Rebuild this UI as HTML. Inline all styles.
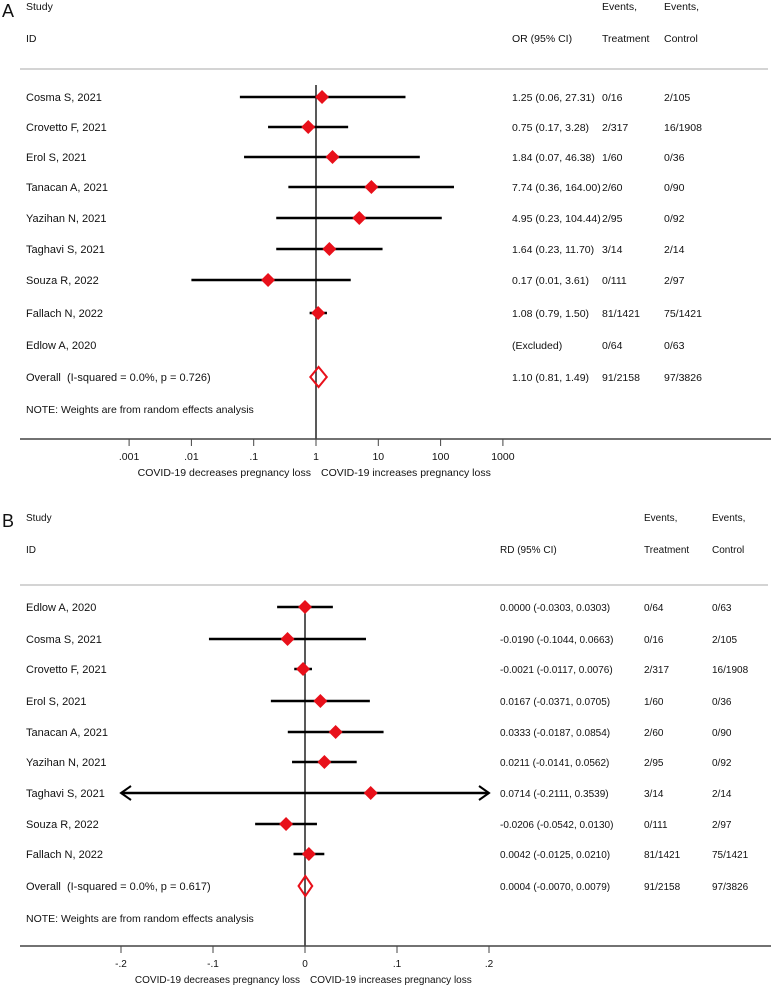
<!DOCTYPE html>
<html><head><meta charset="utf-8">
<style>
html,body{margin:0;padding:0;background:#fff;}
svg{display:block;font-family:"Liberation Sans",Arial,sans-serif;}
text{fill:#111;white-space:pre;}
</style></head>
<body>
<svg id="chart" width="771" height="988" viewBox="0 0 771 988" xmlns="http://www.w3.org/2000/svg"></svg>
<script>
// Panel A data (OR, log scale)
const studiesA = ["Cosma S, 2021","Crovetto F, 2021","Erol S, 2021","Tanacan A, 2021","Yazihan N, 2021","Taghavi S, 2021","Souza R, 2022","Fallach N, 2022","Edlow A, 2020"];
const orA = [1.25,0.75,1.84,7.74,4.95,1.64,0.17,1.08,null];
const loA = [0.06,0.17,0.07,0.36,0.23,0.23,0.01,0.79,null];
const hiA = [27.31,3.28,46.38,164.00,104.44,11.70,3.61,1.50,null];
const ciTextA = ["1.25 (0.06, 27.31)","0.75 (0.17, 3.28)","1.84 (0.07, 46.38)","7.74 (0.36, 164.00)","4.95 (0.23, 104.44)","1.64 (0.23, 11.70)","0.17 (0.01, 3.61)","1.08 (0.79, 1.50)","(Excluded)"];
const trtA = ["0/16","2/317","1/60","2/60","2/95","3/14","0/111","81/1421","0/64"];
const ctlA = ["2/105","16/1908","0/36","0/90","0/92","2/14","2/97","75/1421","0/63"];
const overallA = [1.10,0.81,1.49];
const ticksA = [0.001,0.01,0.1,1,10,100,1000];
const tickLabelsA = [".001",".01",".1","1","10","100","1000"];

// Panel B data (RD, linear)
const studiesB = ["Edlow A, 2020","Cosma S, 2021","Crovetto F, 2021","Erol S, 2021","Tanacan A, 2021","Yazihan N, 2021","Taghavi S, 2021","Souza R, 2022","Fallach N, 2022"];
const rdB = [0.0000,-0.0190,-0.0021,0.0167,0.0333,0.0211,0.0714,-0.0206,0.0042];
const loB = [-0.0303,-0.1044,-0.0117,-0.0371,-0.0187,-0.0141,-0.2111,-0.0542,-0.0125];
const hiB = [0.0303,0.0663,0.0076,0.0705,0.0854,0.0562,0.3539,0.0130,0.0210];
const ciTextB = ["0.0000 (-0.0303, 0.0303)","-0.0190 (-0.1044, 0.0663)","-0.0021 (-0.0117, 0.0076)","0.0167 (-0.0371, 0.0705)","0.0333 (-0.0187, 0.0854)","0.0211 (-0.0141, 0.0562)","0.0714 (-0.2111, 0.3539)","-0.0206 (-0.0542, 0.0130)","0.0042 (-0.0125, 0.0210)"];
const trtB = ["0/64","0/16","2/317","1/60","2/60","2/95","3/14","0/111","81/1421"];
const ctlB = ["0/63","2/105","16/1908","0/36","0/90","0/92","2/14","2/97","75/1421"];
const overallB = [0.0004,-0.0070,0.0079];
const ticksB = [-0.2,-0.1,0,0.1,0.2];
const tickLabelsB = ["-.2","-.1","0",".1",".2"];

const svg = document.getElementById('chart');
const NS = "http://www.w3.org/2000/svg";
function mk(tag, attrs, parent){const e=document.createElementNS(NS,tag);for(const k in attrs)e.setAttribute(k,attrs[k]);(parent||svg).appendChild(e);return e;}
function txt(x,y,s,parent,extra){const t=mk('text',Object.assign({x:x,y:y},extra||{}),parent);t.textContent=s;return t;}

const xA = v => 316 + Math.log10(v)*62.3;
const xB = v => 305 + v*920;
const diamond = (cx,cy,r)=>`${cx-r},${cy} ${cx},${cy-r} ${cx+r},${cy} ${cx},${cy+r}`;

function panel(cfg){
  const g = mk('g',{style:'font-size:'+cfg.fs+'px'});
  
  
  const L={style:'font-size:'+cfg.lfs+'px'};
  let t=txt(2,cfg.y0+cfg.letterDy,cfg.letter,g,{style:'font-size:18px'});
  
  txt(26,cfg.y0+10,"Study",g);
  txt(26,cfg.y0+42,"ID",g);
  txt(cfg.c1,cfg.y0+42,cfg.effHeader,g);
  txt(cfg.c2,cfg.y0+10,"Events,",g);
  txt(cfg.c2,cfg.y0+42,"Treatment",g);
  txt(cfg.c3,cfg.y0+10,"Events,",g);
  txt(cfg.c3,cfg.y0+42,"Control",g);
  const sep=mk('line',{x1:20,x2:768,y1:cfg.sepY,y2:cfg.sepY,stroke:'#d4d4d4','stroke-width':2},g);
  
  const ref=mk('line',{x1:cfg.x(cfg.refVal),x2:cfg.x(cfg.refVal),y1:cfg.sepY+16,y2:cfg.axisY,stroke:'#222','stroke-width':1.5},g);
  
  cfg.studies.forEach((s,i)=>{
    const y=cfg.rowY[i];
    const lab=txt(26,y+4,s,g,L);
    
    if(cfg.est[i]!==null){
      let lo=cfg.lo[i],hi=cfg.hi[i];
      let x1=cfg.x(Math.max(lo,cfg.min)),x2=cfg.x(Math.min(hi,cfg.max));
      const ci=mk('line',{x1:x1,x2:x2,y1:y,y2:y,stroke:'#000','stroke-width':2.5},g);
      
      if(lo<cfg.min){const a=mk('polyline',{points:`${x1+10},${y-7} ${x1},${y} ${x1+10},${y+7}`,fill:'none',stroke:'#000','stroke-width':2},g);}
      if(hi>cfg.max){const a=mk('polyline',{points:`${x2-10},${y-7} ${x2},${y} ${x2-10},${y+7}`,fill:'none',stroke:'#000','stroke-width':2},g);}
      const d=mk('polygon',{points:diamond(cfg.x(cfg.est[i]),y,7),fill:'#e8101a'},g);
      
    }
    txt(cfg.c1,y+4,cfg.ciText[i],g);
    txt(cfg.c2,y+4,cfg.trt[i],g);
    txt(cfg.c3,y+4,cfg.ctl[i],g);
  });
  const oy=cfg.overallY;
  txt(26,oy+4,cfg.overallLabel,g,L);
  const [e,l,h]=cfg.overall;
  const od=mk('polygon',{points:`${cfg.x(l)},${oy} ${cfg.x(e)},${oy-10} ${cfg.x(h)},${oy} ${cfg.x(e)},${oy+10}`,fill:'none',stroke:'#e8101a','stroke-width':2},g);
  
  txt(cfg.c1,oy+4,cfg.overallText,g);
  txt(cfg.c2,oy+4,cfg.overallTrt,g);
  txt(cfg.c3,oy+4,cfg.overallCtl,g);
  const note=txt(26,oy+36,"NOTE: Weights are from random effects analysis",g,{style:'font-size:'+(cfg.lfs-0.5)+'px'});
  
  const ax=mk('line',{x1:20,x2:771,y1:cfg.axisY,y2:cfg.axisY,stroke:'#444','stroke-width':1.5},g);
  
  cfg.ticks.forEach((tv,i)=>{
    const tx=cfg.x(tv);
    const tk=mk('line',{x1:tx,x2:tx,y1:cfg.axisY,y2:cfg.axisY+7,stroke:'#444','stroke-width':1},g);
    
    const tl=txt(tx,cfg.axisY+21,cfg.tickLabels[i],g,{'text-anchor':'middle'});
    
  });
  const refx=cfg.x(cfg.refVal);
  const dl=txt(refx-5,cfg.axisY+37,"COVID-19 decreases pregnancy loss",g,{'text-anchor':'end'});
  
  const il=txt(refx+5,cfg.axisY+37,"COVID-19 increases pregnancy loss",g);
  
}

panel({name:'panel-a-odds-ratio',letter:'A',y0:0,letterDy:17,fs:10.5,lfs:11,c1:512,c2:602,c3:664,sepY:69,effHeader:'OR (95% CI)',x:xA,refVal:1,min:0.001,max:1000,
  studies:studiesA,est:orA,lo:loA,hi:hiA,ciText:ciTextA,trt:trtA,ctl:ctlA,
  rowY:[97,127,157,187,218,249,280,313,345],overallY:377,overall:overallA,
  overallLabel:'Overall  (I-squared = 0.0%, p = 0.726)',overallText:'1.10 (0.81, 1.49)',overallTrt:'91/2158',overallCtl:'97/3826',
  axisY:439,ticks:ticksA,tickLabels:tickLabelsA});
panel({name:'panel-b-risk-difference',letter:'B',y0:511,letterDy:16,fs:10,lfs:11,c1:500,c2:644,c3:712,sepY:585,effHeader:'RD (95% CI)',x:xB,refVal:0,min:-0.2,max:0.2,
  studies:studiesB,est:rdB,lo:loB,hi:hiB,ciText:ciTextB,trt:trtB,ctl:ctlB,
  rowY:[607,639,669,701,732,762,793,824,854],overallY:886,overall:overallB,
  overallLabel:'Overall  (I-squared = 0.0%, p = 0.617)',overallText:'0.0004 (-0.0070, 0.0079)',overallTrt:'91/2158',overallCtl:'97/3826',
  axisY:946,ticks:ticksB,tickLabels:tickLabelsB});
</script>
</body></html>
